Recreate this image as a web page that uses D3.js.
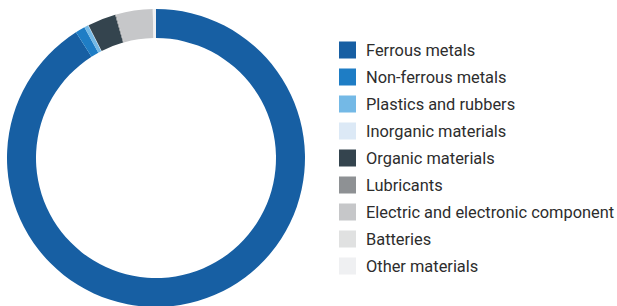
<!DOCTYPE html>
<html>
<head>
<meta charset="utf-8">
<script src="https://cdn.jsdelivr.net/npm/d3@7"></script>
<style>
  html, body { margin: 0; padding: 0; background: #ffffff; }
  svg { display: block; }
</style>
</head>
<body>
<svg id="chart" width="617" height="306"></svg>
<script>
const categories = [
  "Ferrous metals",
  "Non-ferrous metals",
  "Plastics and rubbers",
  "Inorganic materials",
  "Organic materials",
  "Lubricants",
  "Electric and electronic component",
  "Batteries",
  "Other materials"
];
const values = [91.0, 1.05, 0.45, 0.05, 3.06, 0.1, 3.97, 0.05, 0.3];
const colors = ["#175fa3", "#1e7dc5", "#74b9e6", "#dce9f6", "#34444e", "#8e9194", "#c6c7c9", "#e0e1e1", "#eff0f2"];

const svg = d3.select("#chart");
const cx = 156, cy = 158, outerR = 149, innerR = 120;

const pie = d3.pie().sort(null).value(d => d.value);
const arc = d3.arc().innerRadius(innerR).outerRadius(outerR);
const data = categories.map((c, i) => ({ name: c, value: values[i], color: colors[i] }));

svg.append("g")
  .attr("transform", `translate(${cx},${cy})`)
  .selectAll("path")
  .data(pie(data))
  .join("path")
  .attr("d", arc)
  .attr("fill", d => d.data.color);

const legendY = d3.scalePoint().domain(categories).range([50, 266]);
const lg = svg.append("g");
const rows = lg.selectAll("g").data(data).join("g")
  .attr("transform", d => `translate(339,${legendY(d.name)})`);
rows.append("rect")
  .attr("x", 0).attr("y", -8.5).attr("width", 17).attr("height", 17)
  .attr("fill", d => d.color);
rows.append("text")
  .attr("x", 27).attr("y", 0)
  .attr("dy", "0.36em")
  .attr("font-family", "Roboto, 'Noto Sans', sans-serif")
  .attr("font-size", 16.4)
  .attr("fill", "#2d2d2d")
  .text(d => d.name);
</script>
</body>
</html>
